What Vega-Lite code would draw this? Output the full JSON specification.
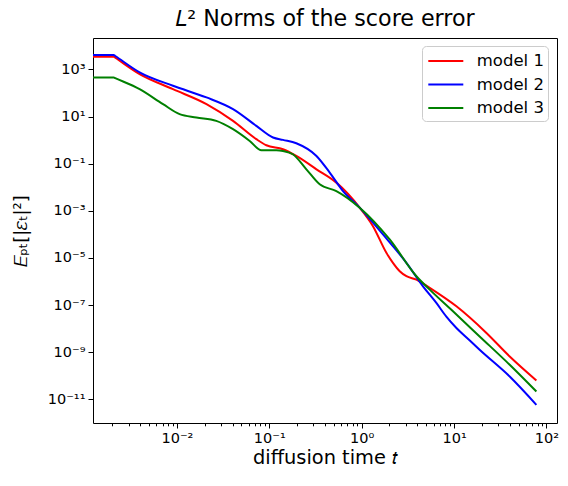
{
  "$schema": "https://vega.github.io/schema/vega-lite/v6.json",
  "width": 464,
  "height": 385,
  "autosize": {"type": "none"},
  "padding": {"left": 93, "top": 38, "right": 11, "bottom": 63},
  "background": "white",
  "title": {"text": "𝐿² Norms of the score error", "fontSize": 22.2, "font": "DejaVu Sans", "fontWeight": "normal", "offset": 8, "anchor": "middle", "color": "black"},
  "config": {
    "view": {"stroke": "black", "strokeWidth": 1},
    "axis": {"domainColor": "black", "tickColor": "black", "labelColor": "black", "titleColor": "black", "labelFont": "DejaVu Sans", "titleFont": "DejaVu Sans", "labelFontSize": 14.5, "titleFontSize": 19.4, "titleFontWeight": "normal", "grid": false, "domain": false, "labelPadding": 3}
  },
  "data": {"values": [
    {"model": "model 1", "t": 0.001, "E": 3430},
    {"model": "model 1", "t": 0.00207, "E": 3430},
    {"model": "model 1", "t": 0.00215, "E": 3110},
    {"model": "model 1", "t": 0.00395, "E": 631},
    {"model": "model 1", "t": 0.00907, "E": 145},
    {"model": "model 1", "t": 0.0209, "E": 33.5},
    {"model": "model 1", "t": 0.0405, "E": 6.53},
    {"model": "model 1", "t": 0.0725, "E": 1.09},
    {"model": "model 1", "t": 0.093, "E": 0.604},
    {"model": "model 1", "t": 0.1406, "E": 0.408},
    {"model": "model 1", "t": 0.196, "E": 0.212},
    {"model": "model 1", "t": 0.324, "E": 0.0577},
    {"model": "model 1", "t": 0.532, "E": 0.0157},
    {"model": "model 1", "t": 0.951, "E": 0.00136},
    {"model": "model 1", "t": 1.325, "E": 0.000224},
    {"model": "model 1", "t": 1.85, "E": 1.66e-5},
    {"model": "model 1", "t": 2.18, "E": 6.2e-6},
    {"model": "model 1", "t": 2.58, "E": 2.73e-6},
    {"model": "model 1", "t": 3.05, "E": 1.68e-6},
    {"model": "model 1", "t": 3.91, "E": 1.21e-6},
    {"model": "model 1", "t": 5.45, "E": 5.4e-7},
    {"model": "model 1", "t": 10.6, "E": 8.9e-8},
    {"model": "model 1", "t": 22.4, "E": 6.6e-9},
    {"model": "model 1", "t": 40.0, "E": 6.65e-10},
    {"model": "model 1", "t": 77.8, "E": 6.4e-11},
    {"model": "model 2", "t": 0.001, "E": 4060},
    {"model": "model 2", "t": 0.00207, "E": 4060},
    {"model": "model 2", "t": 0.00215, "E": 3680},
    {"model": "model 2", "t": 0.00395, "E": 745},
    {"model": "model 2", "t": 0.00907, "E": 201},
    {"model": "model 2", "t": 0.0209, "E": 64.5},
    {"model": "model 2", "t": 0.0405, "E": 20.5},
    {"model": "model 2", "t": 0.0725, "E": 4.0},
    {"model": "model 2", "t": 0.1097, "E": 1.29},
    {"model": "model 2", "t": 0.1406, "E": 1.02},
    {"model": "model 2", "t": 0.196, "E": 0.735},
    {"model": "model 2", "t": 0.324, "E": 0.212},
    {"model": "model 2", "t": 0.451, "E": 0.0418},
    {"model": "model 2", "t": 0.628, "E": 0.00689},
    {"model": "model 2", "t": 0.951, "E": 0.00136},
    {"model": "model 2", "t": 1.70, "E": 9.93e-5},
    {"model": "model 2", "t": 3.05, "E": 6.22e-6},
    {"model": "model 2", "t": 4.61, "E": 6.3e-7},
    {"model": "model 2", "t": 6.43, "E": 1.24e-7},
    {"model": "model 2", "t": 8.25, "E": 3.24e-8},
    {"model": "model 2", "t": 10.6, "E": 1.07e-8},
    {"model": "model 2", "t": 14.5, "E": 3.41e-9},
    {"model": "model 2", "t": 18.9, "E": 1.28e-9},
    {"model": "model 2", "t": 40.0, "E": 9.4e-11},
    {"model": "model 2", "t": 77.8, "E": 5.9e-12},
    {"model": "model 3", "t": 0.001, "E": 457},
    {"model": "model 3", "t": 0.00207, "E": 457},
    {"model": "model 3", "t": 0.00215, "E": 427},
    {"model": "model 3", "t": 0.00395, "E": 145},
    {"model": "model 3", "t": 0.00708, "E": 33.5},
    {"model": "model 3", "t": 0.0107, "E": 12.6},
    {"model": "model 3", "t": 0.01626, "E": 9.1},
    {"model": "model 3", "t": 0.0267, "E": 6.53},
    {"model": "model 3", "t": 0.0405, "E": 2.9},
    {"model": "model 3", "t": 0.0614, "E": 0.92},
    {"model": "model 3", "t": 0.0822, "E": 0.371},
    {"model": "model 3", "t": 0.1194, "E": 0.371},
    {"model": "model 3", "t": 0.1406, "E": 0.346},
    {"model": "model 3", "t": 0.180, "E": 0.251},
    {"model": "model 3", "t": 0.252, "E": 0.0577},
    {"model": "model 3", "t": 0.351, "E": 0.0133},
    {"model": "model 3", "t": 0.532, "E": 0.0069},
    {"model": "model 3", "t": 0.951, "E": 0.00136},
    {"model": "model 3", "t": 2.01, "E": 6.1e-5},
    {"model": "model 3", "t": 3.91, "E": 1.68e-6},
    {"model": "model 3", "t": 5.45, "E": 4.55e-7},
    {"model": "model 3", "t": 9.73, "E": 5.46e-8},
    {"model": "model 3", "t": 18.9, "E": 4.7e-9},
    {"model": "model 3", "t": 40.0, "E": 2.95e-10},
    {"model": "model 3", "t": 77.8, "E": 2.16e-11}
  ]},
  "mark": {"type": "line", "strokeWidth": 2, "clip": true, "interpolate": "monotone"},
  "encoding": {
    "x": {
      "field": "t", "type": "quantitative",
      "scale": {"type": "log", "domain": [0.001236, 130], "nice": false},
      "axis": {
        "title": "diffusion time 𝑡",
        "titlePadding": 4,
        "values": [0.002,0.003,0.004,0.005,0.006,0.007,0.008,0.009,0.01,0.02,0.03,0.04,0.05,0.06,0.07,0.08,0.09,0.1,0.2,0.3,0.4,0.5,0.6,0.7,0.8,0.9,1,2,3,4,5,6,7,8,9,10,20,30,40,50,60,70,80,90,100],
        "tickSize": {"condition": {"test": "abs(log(datum.value)/LN10 - round(log(datum.value)/LN10)) < 1e-6", "value": 5}, "value": 2.8},
        "labelExpr": "abs(log(datum.value)/LN10 - round(log(datum.value)/LN10)) < 1e-6 ? '10' + (round(log(datum.value)/LN10) < 0 ? '⁻' : '') + ['⁰','¹','²','³','⁴','⁵','⁶','⁷','⁸','⁹'][abs(round(log(datum.value)/LN10)) % 10] : ''"
      }
    },
    "y": {
      "field": "E", "type": "quantitative",
      "scale": {"type": "log", "domain": [1e-12, 21400], "nice": false},
      "axis": {
        "title": "𝐸ₚₜ[|𝜀ₜ|²]",
        "titleFontSize": 18,
        "titlePadding": 17,
        "values": [1e-11, 1e-9, 1e-7, 1e-5, 1e-3, 1e-1, 10, 1000],
        "tickSize": 5,
        "labelExpr": "'10' + (round(log(datum.value)/LN10) < 0 ? '⁻' : '') + (abs(round(log(datum.value)/LN10)) >= 10 ? ['⁰','¹','²','³','⁴','⁵','⁶','⁷','⁸','⁹'][floor(abs(round(log(datum.value)/LN10))/10)] : '') + ['⁰','¹','²','³','⁴','⁵','⁶','⁷','⁸','⁹'][abs(round(log(datum.value)/LN10)) % 10]"
      }
    },
    "color": {
      "field": "model", "type": "nominal",
      "scale": {"domain": ["model 1", "model 2", "model 3"], "range": ["#ff0000", "#0000ff", "#008000"]},
      "legend": {
        "title": null,
        "orient": "none",
        "legendX": 329,
        "legendY": 8,
        "padding": 4,
        "strokeColor": "#cccccc",
        "fillColor": "white",
        "cornerRadius": 4,
        "symbolType": "M-1.75,0H1.75",
        "symbolSize": 400,
        "symbolOffset": 8.8,
        "symbolStrokeWidth": 2,
        "labelFont": "DejaVu Sans",
        "labelFontSize": 16.5,
        "labelColor": "black",
        "labelOffset": 20,
        "labelExpr": "datum.label + ' '",
        "rowPadding": 3.5
      }
    }
  }
}
